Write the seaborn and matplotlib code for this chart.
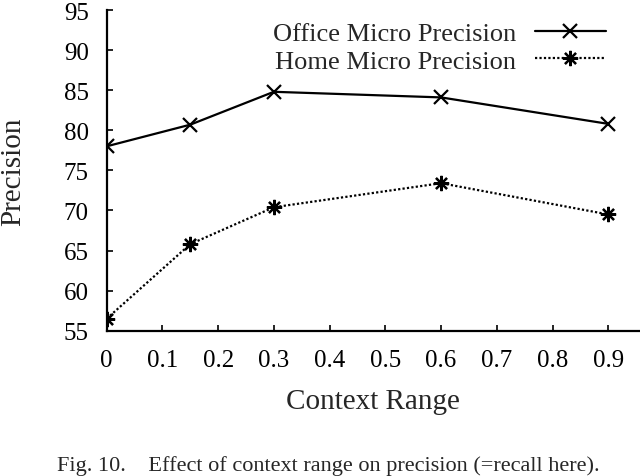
import pandas as pd
import numpy as np
import seaborn as sns
from matplotlib import pyplot as plt

# values
context_range = [0, 0.15, 0.3, 0.6, 0.9]
office_precision = [78.0, 80.7, 84.8, 84.1, 80.8]
home_precision = [56.5, 65.8, 70.4, 73.4, 69.5]
x_ticks = [0, 0.1, 0.2, 0.3, 0.4, 0.5, 0.6, 0.7, 0.8, 0.9]
y_ticks = [55, 60, 65, 70, 75, 80, 85, 90, 95]

df = pd.DataFrame({'range': context_range,
                   'office': office_precision,
                   'home': home_precision})

sns.set_style('ticks')
plt.rcParams['font.family'] = ['Liberation Serif', 'DejaVu Serif']

fig = plt.figure(figsize=(6.4, 4.77), dpi=100)
ax = fig.add_axes([0.1667, 0.3046, 0.8333, 0.6723])

sns.lineplot(x='range', y='office', data=df, ax=ax, color='black',
             linewidth=1.6, marker='x', markersize=10,
             markeredgecolor='black', markeredgewidth=1.6,
             label='Office Micro Precision')
sns.lineplot(x='range', y='home', data=df, ax=ax, color='black',
             linewidth=1.6, linestyle=(0, (1, 1)), marker=(8, 2, 0), markersize=11,
             markeredgecolor='black', markeredgewidth=1.6,
             label='Home Micro Precision')

ax.set_xlim(0, 0.957)
ax.set_ylim(55, 95)
ax.set_xticks(x_ticks)
ax.set_xticklabels([('%g' % t) for t in x_ticks])
ax.set_yticks(y_ticks)
ax.tick_params(direction='in', length=4, width=1.2, labelsize=18, pad=13, colors='black')
for s in ['top', 'right']:
    ax.spines[s].set_visible(False)
for s in ['left', 'bottom']:
    ax.spines[s].set_linewidth(1.6)
    ax.spines[s].set_color('black')

ax.set_xlabel('Context Range', fontsize=21)
ax.set_ylabel('Precision', fontsize=21)
ax.xaxis.set_label_coords(0.5, -0.18)
ax.yaxis.set_label_coords(-0.175, 0.5)
ax.yaxis.label.set_va('center')

ax.legend(loc='upper right', bbox_to_anchor=(606 / 640, 1 - 23 / 477),
          bbox_transform=fig.transFigure, frameon=False, fontsize=19,
          markerfirst=False, handlelength=2.7, handletextpad=0.7,
          labelspacing=0.14, borderpad=0, borderaxespad=0)

fig.text(0.5125, 1 - 466 / 477, 'Fig. 10.    Effect of context range on precision (=recall here).',
         ha='center', va='center', fontsize=16)

fig.savefig('out.png', dpi=100)
